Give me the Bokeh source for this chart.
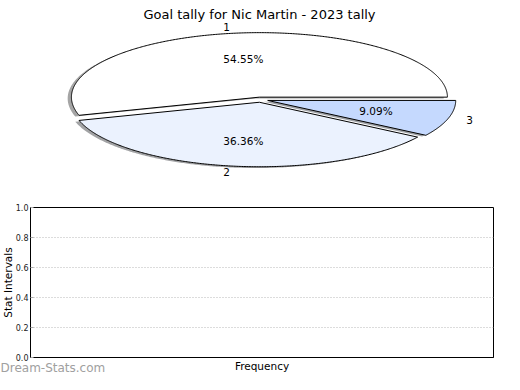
import numpy as np
from bokeh.plotting import figure
from bokeh.layouts import column
from bokeh.models import Range1d, Label, FixedTicker, ColumnDataSource, Title
from bokeh.core.properties import value
from bokeh.embed import file_html
from bokeh.resources import INLINE

# ---------------- data ----------------
title = "Goal tally for Nic Martin - 2023 tally"
categories = ["1", "2", "3"]
values = [6, 4, 1]                      # 54.55 %, 36.36 %, 9.09 %
slice_colors = ["#FFFFFF", "#EBF2FE", "#C5D9FE"]
explode = [0.04, 0.04, 0.04]
y_tick_values = [0.0, 0.2, 0.4, 0.6, 0.8, 1.0]
y_tick_labels = ["0.0", "0.2", "0.4", "0.6", "0.8", "1.0"]
y_axis_label = "Stat Intervals"
x_axis_label = "Frequency"
watermark = "Dream-Stats.com"

FONT = "DejaVu Sans"

# ---------------- layout ----------------
W = 504
H1, H2 = 200, 174
BL, BR, BT, BB = 30, 11, 7, 17          # borders of the lower plot (frames are aligned)
FL, FR = BL, W - BR                      # frame left/right on both canvases
RX, RY = 188.0, 64.5                     # pixel size of one pie-radius unit (x, y)
CX, CY = 260.0, 99.2                     # pie centre on the top canvas

top = figure(width=W, height=H1,
             x_range=Range1d((FL - CX) / RX, (FR - CX) / RX),
             y_range=Range1d(-(H1 - CY) / RY, CY / RY),
             output_backend="svg", toolbar_location=None,
             x_axis_location=None, y_axis_location=None,
             min_border=0, min_border_left=0, min_border_right=0,
             min_border_top=0, min_border_bottom=0,
             outline_line_color=None,
             background_fill_color="white", border_fill_color="white")
top.grid.visible = False

total = float(sum(values))
fracs = np.array(values, dtype=float) / total
bounds = np.concatenate([[0.0], np.cumsum(fracs)]) * 2 * np.pi

xs, ys, sxs, sys_ = [], [], [], []
lab_x, lab_y, lab_align = [], [], []
pct_x, pct_y, pct_text = [], [], []
for i in range(len(values)):
    t1, t2 = bounds[i], bounds[i + 1]
    mid = 0.5 * (t1 + t2)
    ox, oy = explode[i] * np.cos(mid), explode[i] * np.sin(mid)
    t = np.linspace(t1, t2, max(int(np.degrees(t2 - t1)) * 2, 4))
    px = np.concatenate([[ox], ox + np.cos(t), [ox]])
    py = np.concatenate([[oy], oy + np.sin(t), [oy]])
    xs.append(px.tolist()); ys.append(py.tolist())
    sxs.append((px - 0.02).tolist()); sys_.append((py - 0.02).tolist())
    lab_x.append(ox + 1.1 * np.cos(mid)); lab_y.append(oy + 1.1 * np.sin(mid))
    lab_align.append("right" if np.cos(mid) < 0 else "left")
    pct_x.append(ox + 0.6 * np.cos(mid)); pct_y.append(oy + 0.6 * np.sin(mid))
    pct_text.append("%.2f%%" % (fracs[i] * 100))


def shade(hexcol):
    r, g, b = (int(hexcol[k:k + 2], 16) for k in (1, 3, 5))
    return "#%02x%02x%02x" % (int(r * 0.3), int(g * 0.3), int(b * 0.3))


shadow_colors = [shade(c) for c in slice_colors]

top.patches(xs=sxs, ys=sys_, fill_color=shadow_colors, fill_alpha=0.5,
            line_color=None)
top.patches(xs=xs, ys=ys, fill_color=slice_colors, line_color="black",
            line_width=1)

lab_src = ColumnDataSource(dict(x=lab_x, y=lab_y, text=categories, align=lab_align))
top.text(x="x", y="y", text="text", source=lab_src, text_align="align",
         text_baseline="middle", text_font=value(FONT),
         text_font_size=value("10.5px"), text_color="black")
pct_src = ColumnDataSource(dict(x=pct_x, y=pct_y, text=pct_text))
top.text(x="x", y="y", text="text", source=pct_src, text_align="center",
         text_baseline="middle", text_font=value(FONT),
         text_font_size=value("10.5px"), text_color="black")

top.add_layout(Label(x=(259 - CX) / RX, y=(CY - 14) / RY, text=title,
                     text_align="center", text_baseline="alphabetic",
                     text_font=FONT, text_font_size="13px", text_color="black"))

# ---------------- bottom (empty histogram axes) ----------------
bot = figure(width=W, height=H2, x_range=Range1d(0, 1), y_range=Range1d(0, 1),
             output_backend="svg", toolbar_location=None,
             min_border_left=BL, min_border_right=BR,
             min_border_top=BT, min_border_bottom=BB,
             outline_line_color="black", outline_line_width=1,
             background_fill_color="white", border_fill_color="white")

xa = bot.xaxis[0]
xa.ticker = FixedTicker(ticks=[])
xa.axis_label = x_axis_label
xa.axis_label_text_font = FONT
xa.axis_label_text_font_size = "10.5px"
xa.axis_label_text_font_style = "normal"
xa.axis_label_text_color = "black"
xa.axis_label_standoff = 2
xa.major_tick_out = 0
xa.major_tick_in = 0
xa.minor_tick_out = 0
xa.minor_tick_in = 0
xa.major_label_standoff = 0
xa.axis_line_color = "black"

ya = bot.yaxis[0]
ya.ticker = FixedTicker(ticks=y_tick_values)
ya.major_label_overrides = {v: s for v, s in zip(y_tick_values, y_tick_labels)}
ya.major_label_text_font = FONT
ya.major_label_text_font_size = "8px"
ya.major_label_text_color = "#222222"
ya.major_label_standoff = 2
ya.major_tick_in = 3
ya.major_tick_out = 0
ya.major_tick_line_color = "#aaaaaa"
ya.minor_tick_in = 0
ya.minor_tick_out = 0
ya.axis_line_color = "black"

bot.xgrid.visible = False
bot.ygrid.ticker = FixedTicker(ticks=y_tick_values)
bot.ygrid.grid_line_color = "#b8b8b8"
bot.ygrid.grid_line_dash = "1 2"
bot.ygrid.grid_line_width = 1

bot.add_layout(Title(text=y_axis_label, align="center", text_font=FONT,
                     text_font_size="10.5px", text_font_style="normal",
                     text_color="black", standoff=-3, offset=0), "left")
bot.add_layout(Title(text=watermark, align="left", vertical_align="top",
                     offset=-BL, standoff=-28,
                     text_font=FONT, text_font_size="12px",
                     text_font_style="normal", text_color="#a0a0a0"), "below")

layout = column(top, bot, spacing=0)
open("out.html", "w").write(file_html(layout, INLINE))
